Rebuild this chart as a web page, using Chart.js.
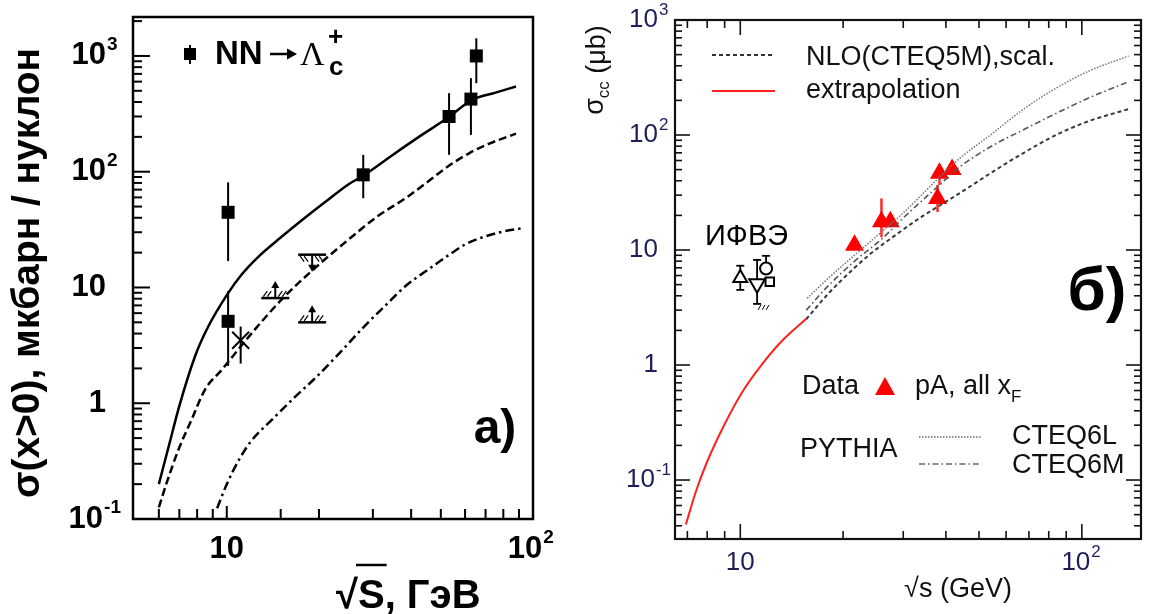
<!DOCTYPE html>
<html>
<head>
<meta charset="utf-8">
<script src="https://cdn.jsdelivr.net/npm/chart.js@4.4.1/dist/chart.umd.min.js"></script>
<style>
  html, body { margin: 0; padding: 0; background: #fff; }
  #wrap { position: relative; width: 1152px; height: 614px; overflow: hidden; }
  #cA { position: absolute; left: 0; top: 0; }
  #cB { position: absolute; left: 580px; top: 0; }
</style>
</head>
<body>
<div id="wrap">
  <canvas id="cA" width="580" height="614"></canvas>
  <canvas id="cB" width="572" height="614"></canvas>
</div>
<script>
/* ===== panel a) : NN -> Lambda_c+ ===== */
// theory curves (sqrt(s) GeV, microbarn / nucleon)
const aSolidX = [6.0, 6.5, 7.0, 7.9, 8.7, 10, 11.2, 12.7, 15, 18, 21, 25, 28, 35, 43, 53, 63, 75, 88];
const aSolidY = [0.2, 0.45, 0.95, 2.6, 4.6, 8.6, 13, 18.5, 27, 40, 55, 78, 93, 141, 205, 295, 415, 480, 545];
const aDashX = [6.0, 6.37, 6.96, 7.69, 8.5, 9.66, 10.7, 12.5, 15.2, 19, 25, 31, 38.7, 44.8, 53, 62, 72, 88];
const aDashY = [0.126, 0.207, 0.4, 0.73, 1.32, 1.96, 2.74, 4.5, 8.0, 14, 26, 41, 60, 80, 112, 145, 175, 213];
const aDotDashX = [9.3, 10, 11, 12, 14.2, 16.5, 19.3, 23, 28.1, 33, 38.7, 45, 53, 60, 68, 78, 92];
const aDotDashY = [0.124, 0.2, 0.33, 0.47, 0.74, 1.1, 1.62, 2.6, 4.6, 7.0, 10.5, 14, 19, 23.5, 27, 30, 32.5];
// measured points (filled squares)
const aPtsX = [10.1, 10.1, 27.9, 53.2, 62.7, 65.3];
const aPtsY = [44.6, 5.1, 94, 300, 424, 1000];
const aPtsLo = [16.9, 2.1, 59, 140, 208, 582];
const aPtsHi = [80.9, 9.3, 140, 477, 643, 1420];
// asterisk point
const aStarX = [11.1];
const aStarY = [3.5];
const aStarLo = [2.2];
const aStarHi = [4.6];
// limits: 1 = lower limit (arrow up), -1 = upper limit (arrow down)
const aLimX = [14.4, 19.0, 19.0];
const aLimY = [8.1, 5.0, 19.2];
const aLimDir = [1, 1, -1];
// axis ticks
const aXTicks = [6, 7, 8, 9, 10, 15, 20, 30, 40, 50, 60, 70, 80, 90, 100];
const aXMajor = [10, 100];
const aXLabVals = [10, 100];
const aXLabBase = ['10', '10'];
const aXLabSup = ['', '2'];
const aYLabVals = [0.1, 1, 10, 100, 1000];
const aYLabBase = ['10', '1', '10', '10', '10'];
const aYLabSup = ['-1', '', '', '2', '3'];

/* ===== panel б) : sigma_cc ===== */
const bRedX = [6.93, 7.41, 7.98, 9.02, 10.2, 11.5, 13.3, 15.6];
const bRedY = [0.041, 0.079, 0.142, 0.31, 0.60, 0.99, 1.64, 2.52];
const bNloX = [15.6, 18, 21.6, 24.2, 28, 34, 41, 48, 54, 67, 84, 104, 137];
const bNloY = [2.5, 4.1, 7.0, 9.4, 13, 19.5, 27.5, 37, 46.5, 69, 100, 131, 168];
const b6mX = [15.6, 18, 21.6, 26, 30, 38, 44, 54, 67, 84, 104, 137];
const b6mY = [3.0, 4.8, 8.0, 12.5, 19, 36, 53, 79, 110, 154, 208, 290];
const b6lX = [15.7, 18, 21.6, 26, 30, 38, 44, 54, 67, 84, 104, 137];
const b6lY = [3.8, 5.6, 9.0, 14.5, 21, 42, 63, 100, 165, 255, 356, 486];
// pA data (red triangles)
const bDataX = [21.6, 25.9, 27.5, 38.3, 41.7, 37.8];
const bDataY = [11.0, 17.6, 17.6, 46.5, 50.1, 28.1];
const bDataLo = [10.0, 12.9, 16.0, 36.8, 45.0, 21.4];
const bDataHi = [12.2, 28.1, 19.5, 54.5, 56.0, 36.8];
// IHEP points
const bIhepX = [10.0, 11.2, 11.9, 12.2];
const bIhepY = [5.7, 5.1, 6.9, 5.3];
const bIhepLo = [4.5, 3.4, 6.9, 5.3];
const bIhepHi = [7.3, 8.2, 8.9, 5.3];
const bXTicks = [7, 8, 9, 10, 20, 30, 40, 50, 60, 70, 80, 90, 100];
const bXMajor = [10, 100];
const bXLabVals = [10, 100];
const bXLabBase = ['10', '10'];
const bXLabSup = ['', '2'];
const bYLabVals = [0.1, 1, 10, 100, 1000];
const bYLabBase = ['10', '1', '10', '10', '10'];
const bYLabSup = ['-1', '', '', '2', '3'];

const SANS = '"Liberation Sans", Arial, sans-serif';

function pts(xs, ys) { return xs.map((x, i) => ({ x: x, y: ys[i] })); }

function minorTicks(lo, hi) {
  const out = [];
  for (let e = -3; e <= 4; e++) {
    for (let d = 1; d <= 9; d++) {
      const v = d * Math.pow(10, e);
      if (v > lo * 1.0001 && v < hi * 0.9999) out.push({ v: v, major: d === 1 });
    }
  }
  return out;
}

// base text right-aligned at rx (or pushed left when superscript is wide)
function drawPowR(ctx, base, sup, rx, maxR, y, bf, sf, supDy) {
  ctx.font = sf;
  const sw = sup ? ctx.measureText(sup).width + 1 : 0;
  const r = Math.min(rx, maxR - sw);
  ctx.font = bf;
  ctx.textAlign = 'right';
  ctx.textBaseline = 'middle';
  ctx.fillText(base, r, y);
  if (sup) {
    ctx.font = sf;
    ctx.textAlign = 'left';
    ctx.fillText(sup, r + 1, y + supDy);
  }
}

function drawPowC(ctx, base, sup, cx, y, bf, sf, supDy) {
  ctx.font = bf;
  const w = ctx.measureText(base).width;
  ctx.textAlign = 'center';
  ctx.textBaseline = 'middle';
  ctx.fillText(base, cx, y);
  if (sup) {
    ctx.font = sf;
    ctx.textAlign = 'left';
    ctx.fillText(sup, cx + w / 2 + 1, y + supDy);
  }
}

function vbar(ctx, x, y, xv, lo, hi) {
  const px = x.getPixelForValue(xv);
  ctx.beginPath();
  ctx.moveTo(px, y.getPixelForValue(lo));
  ctx.lineTo(px, y.getPixelForValue(hi));
  ctx.stroke();
}

function hatch(ctx, x0, x1, y0, dir) {
  ctx.lineWidth = 1.2;
  for (let k = x0; k <= x1; k += 4) {
    ctx.beginPath();
    ctx.moveTo(k, y0 - dir * 1.5);
    ctx.lineTo(k + 4, y0 - dir * 7);
    ctx.stroke();
  }
}

function drawLimit(ctx, px, py, dir) {
  ctx.strokeStyle = '#000';
  ctx.fillStyle = '#000';
  ctx.lineWidth = 2.5;
  ctx.beginPath(); ctx.moveTo(px - 14, py); ctx.lineTo(px + 14, py); ctx.stroke();
  hatch(ctx, px - 12, px - 5, py, dir);
  hatch(ctx, px + 3, px + 10, py, dir);
  ctx.lineWidth = 2;
  const tip = py - dir * 17;
  ctx.beginPath(); ctx.moveTo(px, py); ctx.lineTo(px, tip + dir * 5); ctx.stroke();
  ctx.beginPath();
  ctx.moveTo(px, tip);
  ctx.lineTo(px - 4, tip + dir * 7);
  ctx.lineTo(px + 4, tip + dir * 7);
  ctx.closePath();
  ctx.fill();
}

/* ---------- panel a plugin ---------- */
const aDeco = {
  id: 'aDeco',
  beforeDatasetsDraw(chart) {
    const { ctx, scales: { x, y } } = chart;
    ctx.save();
    ctx.strokeStyle = '#000';
    ctx.lineWidth = 2;
    aPtsX.forEach((v, i) => vbar(ctx, x, y, v, aPtsLo[i], aPtsHi[i]));
    aStarX.forEach((v, i) => vbar(ctx, x, y, v, aStarLo[i], aStarHi[i]));
    ctx.restore();
  },
  afterDraw(chart) {
    const { ctx, chartArea: c, scales: { x, y } } = chart;
    ctx.save();
    aLimX.forEach((v, i) => drawLimit(ctx, x.getPixelForValue(v), y.getPixelForValue(aLimY[i]), aLimDir[i]));

    // frame
    ctx.strokeStyle = '#000';
    ctx.lineWidth = 2.5;
    ctx.strokeRect(c.left, c.top, c.right - c.left, c.bottom - c.top);
    // inward ticks
    ctx.lineWidth = 2;
    minorTicks(y.min, y.max).forEach(t => {
      const py = y.getPixelForValue(t.v);
      ctx.beginPath(); ctx.moveTo(c.left, py); ctx.lineTo(c.left + (t.major ? 17 : 9), py); ctx.stroke();
    });
    aXTicks.forEach(v => {
      const px = x.getPixelForValue(v);
      const len = aXMajor.includes(v) ? 13 : 10;
      ctx.beginPath(); ctx.moveTo(px, c.bottom); ctx.lineTo(px, c.bottom - len); ctx.stroke();
    });

    // tick labels
    ctx.fillStyle = '#000';
    const bf = 'bold 31px ' + SANS, sf = 'bold 19px ' + SANS;
    aYLabVals.forEach((v, i) => {
      drawPowR(ctx, aYLabBase[i], aYLabSup[i], 106, 121, y.getPixelForValue(v), bf, sf, -11);
    });
    aXLabVals.forEach((v, i) => {
      drawPowC(ctx, aXLabBase[i], aXLabSup[i], x.getPixelForValue(v) - (aXLabSup[i] ? 8 : 0), 549, bf, sf, -11);
    });

    // x title: sqrt(S), GeV
    ctx.font = 'bold 40px ' + SANS;
    ctx.textAlign = 'left';
    ctx.textBaseline = 'alphabetic';
    const rw = ctx.measureText('\u221A').width;
    const sw = ctx.measureText('S').width;
    const tx = 336;
    ctx.fillText('\u221AS, \u0413\u044D\u0412', tx, 608);
    ctx.lineWidth = 2.5;
    ctx.beginPath(); ctx.moveTo(tx + rw - 2, 565); ctx.lineTo(tx + rw + sw + 2, 565); ctx.stroke();

    // y title (rotated)
    const yt = '\u03C3(x>0), \u043C\u043A\u0431\u0430\u0440\u043D / \u043D\u0443\u043A\u043B\u043E\u043D';
    ctx.save();
    ctx.translate(28, 273);
    ctx.rotate(-Math.PI / 2);
    let fs = 32;
    ctx.font = 'bold ' + fs + 'px ' + SANS;
    fs = fs * 450 / ctx.measureText(yt).width;
    ctx.font = 'bold ' + fs.toFixed(1) + 'px ' + SANS;
    ctx.textAlign = 'center';
    ctx.textBaseline = 'middle';
    ctx.fillText(yt, 0, 0);
    ctx.restore();

    // panel tag
    ctx.font = 'bold 48px ' + SANS;
    ctx.textAlign = 'center';
    ctx.textBaseline = 'middle';
    ctx.fillText('a)', 495, 430);

    // legend
    ctx.lineWidth = 2;
    ctx.beginPath(); ctx.moveTo(190, 45); ctx.lineTo(190, 64); ctx.stroke();
    ctx.fillRect(184, 48, 12, 12);
    ctx.font = 'bold 33px ' + SANS;
    ctx.textAlign = 'left';
    ctx.fillText('NN', 215, 55);
    ctx.lineWidth = 2.5;
    ctx.beginPath(); ctx.moveTo(270, 54); ctx.lineTo(289, 54); ctx.stroke();
    ctx.beginPath(); ctx.moveTo(297, 54); ctx.lineTo(287, 48.5); ctx.lineTo(287, 59.5); ctx.closePath(); ctx.fill();
    ctx.font = '34px "Liberation Serif", serif';
    ctx.fillText('\u039B', 300, 56);
    ctx.font = 'bold 26px ' + SANS;
    ctx.fillText('+', 328, 38);
    ctx.fillText('c', 329, 68);
    ctx.restore();
  }
};

/* ---------- panel б plugin ---------- */
const bDeco = {
  id: 'bDeco',
  beforeDatasetsDraw(chart) {
    const { ctx, scales: { x, y } } = chart;
    ctx.save();
    ctx.strokeStyle = '#ff2a2a';
    ctx.lineWidth = 2.5;
    bDataX.forEach((v, i) => vbar(ctx, x, y, v, bDataLo[i], bDataHi[i]));
    ctx.strokeStyle = '#000';
    ctx.lineWidth = 1.8;
    bIhepX.forEach((v, i) => {
      vbar(ctx, x, y, v, bIhepLo[i], bIhepHi[i]);
      const px = x.getPixelForValue(v);
      [bIhepLo[i], bIhepHi[i]].forEach(e => {
        if (e === bIhepY[i]) return;
        const py = y.getPixelForValue(e);
        ctx.beginPath(); ctx.moveTo(px - 4, py); ctx.lineTo(px + 4, py); ctx.stroke();
      });
    });
    // hatch under the down-triangle error bar
    const hx = x.getPixelForValue(bIhepX[1]);
    const hy = y.getPixelForValue(bIhepLo[1]);
    ctx.lineWidth = 1;
    for (let k = 0; k < 3; k++) {
      ctx.beginPath(); ctx.moveTo(hx + 1 + k * 4, hy + 6); ctx.lineTo(hx + 4 + k * 4, hy + 1); ctx.stroke();
    }
    ctx.restore();
  },
  afterDraw(chart) {
    const { ctx, chartArea: c, scales: { x, y } } = chart;
    ctx.save();
    ctx.strokeStyle = '#111';
    ctx.lineWidth = 2.2;
    ctx.strokeRect(c.left, c.top, c.right - c.left, c.bottom - c.top);
    ctx.lineWidth = 1.6;
    minorTicks(y.min, y.max).forEach(t => {
      const py = y.getPixelForValue(t.v);
      const len = t.major ? 15 : 7;
      ctx.beginPath(); ctx.moveTo(c.left, py); ctx.lineTo(c.left + len, py); ctx.stroke();
      ctx.beginPath(); ctx.moveTo(c.right, py); ctx.lineTo(c.right - len, py); ctx.stroke();
    });
    bXTicks.forEach(v => {
      const px = x.getPixelForValue(v);
      const len = bXMajor.includes(v) ? 15 : 8;
      ctx.beginPath(); ctx.moveTo(px, c.bottom); ctx.lineTo(px, c.bottom - len); ctx.stroke();
      ctx.beginPath(); ctx.moveTo(px, c.top); ctx.lineTo(px, c.top + len); ctx.stroke();
    });

    // tick labels
    ctx.fillStyle = '#1e1e5a';
    const bf = '26px ' + SANS, sf = '17px ' + SANS;
    bYLabVals.forEach((v, i) => {
      drawPowR(ctx, bYLabBase[i], bYLabSup[i], 78, 91, y.getPixelForValue(v), bf, sf, -10);
    });
    bXLabVals.forEach((v, i) => {
      drawPowC(ctx, bXLabBase[i], bXLabSup[i], x.getPixelForValue(v) - (bXLabSup[i] ? 6 : 0), 563, bf, sf, -11);
    });

    // axis titles
    ctx.fillStyle = '#111';
    ctx.font = '27px ' + SANS;
    ctx.textAlign = 'center';
    ctx.textBaseline = 'middle';
    ctx.fillText('\u221As (GeV)', 378, 590);

    ctx.save();
    ctx.translate(18, 70);
    ctx.rotate(-Math.PI / 2);
    ctx.textAlign = 'left';
    const f1 = '27px ' + SANS, f2 = '17px ' + SANS;
    ctx.font = f1; const w1 = ctx.measureText('\u03C3').width;
    ctx.font = f2; const w2 = ctx.measureText('cc').width;
    ctx.font = f1; const w3 = ctx.measureText(' (\u03BCb)').width;
    const sx = -(w1 + w2 + w3) / 2;
    ctx.font = f1; ctx.fillText('\u03C3', sx, -2);
    ctx.font = f2; ctx.fillText('cc', sx + w1, 6);
    ctx.font = f1; ctx.fillText(' (\u03BCb)', sx + w1 + w2, 0);
    ctx.restore();

    // legend (top)
    ctx.lineWidth = 2;
    ctx.strokeStyle = '#333';
    ctx.setLineDash([4, 3]);
    ctx.beginPath(); ctx.moveTo(132, 55); ctx.lineTo(195, 55); ctx.stroke();
    ctx.setLineDash([]);
    ctx.strokeStyle = '#ff2020';
    ctx.beginPath(); ctx.moveTo(132, 91); ctx.lineTo(195, 91); ctx.stroke();
    ctx.font = '27px ' + SANS;
    ctx.textAlign = 'left';
    ctx.fillStyle = '#111';
    ctx.fillText('NLO(CTEQ5M),scal.', 226, 58);
    ctx.fillText('extrapolation', 226, 91);

    // legend (bottom)
    ctx.fillText('Data', 222, 387);
    ctx.fillStyle = '#ff0000';
    ctx.beginPath(); ctx.moveTo(305, 377); ctx.lineTo(315, 395); ctx.lineTo(295, 395); ctx.closePath(); ctx.fill();
    ctx.fillStyle = '#111';
    ctx.fillText('pA, all x', 335, 387);
    const pw = ctx.measureText('pA, all x').width;
    ctx.font = '17px ' + SANS;
    ctx.fillText('F', 335 + pw, 397);
    ctx.font = '27px ' + SANS;
    ctx.fillText('PYTHIA', 220, 450);
    ctx.fillText('CTEQ6L', 432, 437);
    ctx.fillText('CTEQ6M', 432, 466);
    ctx.strokeStyle = '#666';
    ctx.lineWidth = 1.5;
    ctx.setLineDash([1.5, 1.5]);
    ctx.beginPath(); ctx.moveTo(339, 437); ctx.lineTo(401, 437); ctx.stroke();
    ctx.setLineDash([6, 3, 1.5, 3]);
    ctx.beginPath(); ctx.moveTo(339, 464); ctx.lineTo(401, 464); ctx.stroke();
    ctx.setLineDash([]);

    // IHEP label and panel tag
    ctx.fillStyle = '#000';
    ctx.font = '29px ' + SANS;
    ctx.fillText('\u0418\u0424\u0412\u042D', 125, 237);
    ctx.font = 'bold 62px ' + SANS;
    ctx.textAlign = 'center';
    ctx.fillText('\u0431)', 517, 293);
    ctx.restore();
  }
};

function lineDs(xs, ys, color, width, dash) {
  return {
    data: pts(xs, ys), borderColor: color, borderWidth: width, borderDash: dash,
    pointRadius: 0, fill: false, cubicInterpolationMode: 'monotone'
  };
}

function markDs(xs, ys, style, radius, bg, border, bw, rot) {
  return {
    data: pts(xs, ys), showLine: false, pointStyle: style, pointRadius: radius,
    pointBackgroundColor: bg, pointBorderColor: border, pointBorderWidth: bw,
    pointRotation: rot || 0
  };
}

function baseOptions(pad, xMin, xMax, yMin, yMax) {
  return {
    responsive: false,
    animation: false,
    events: [],
    layout: { padding: pad },
    plugins: { legend: { display: false }, tooltip: { enabled: false } },
    scales: {
      x: { type: 'logarithmic', min: xMin, max: xMax, display: false },
      y: { type: 'logarithmic', min: yMin, max: yMax, display: false }
    }
  };
}

new Chart(document.getElementById('cA'), {
  type: 'line',
  data: {
    datasets: [
      lineDs(aSolidX, aSolidY, '#000', 2.5, []),
      lineDs(aDashX, aDashY, '#000', 2.5, [8, 4]),
      lineDs(aDotDashX, aDotDashY, '#000', 2.5, [9, 4, 2.5, 4]),
      markDs(aPtsX, aPtsY, 'rect', 9.2, '#000', '#000', 0),
      markDs(aStarX, aStarY, 'crossRot', 12, '#000', '#000', 2)
    ]
  },
  options: baseOptions({ left: 133, right: 47, top: 17, bottom: 95 }, 4.94, 100, 0.1, 2170),
  plugins: [aDeco]
});

new Chart(document.getElementById('cB'), {
  type: 'line',
  data: {
    datasets: [
      lineDs(bRedX, bRedY, '#ff2020', 2, []),
      lineDs(bNloX, bNloY, '#3a3a3a', 2, [4, 3]),
      lineDs(b6mX, b6mY, '#555', 1.6, [6, 3, 1.5, 3]),
      lineDs(b6lX, b6lY, '#777', 1.5, [1.5, 1.5]),
      markDs(bDataX, bDataY, 'triangle', 11, '#ff0000', '#ff0000', 0),
      markDs(bIhepX.slice(0, 1), bIhepY.slice(0, 1), 'triangle', 8, '#fff', '#000', 2),
      markDs(bIhepX.slice(1, 2), bIhepY.slice(1, 2), 'triangle', 9, '#fff', '#000', 2, 180),
      markDs(bIhepX.slice(2, 3), bIhepY.slice(2, 3), 'circle', 6, '#fff', '#000', 2),
      markDs(bIhepX.slice(3, 4), bIhepY.slice(3, 4), 'rect', 6, '#fff', '#000', 2)
    ]
  },
  options: baseOptions({ left: 95, right: 5, top: 20, bottom: 75 }, 6.44, 149, 0.0307, 1000),
  plugins: [bDeco]
});
</script>
</body>
</html>
